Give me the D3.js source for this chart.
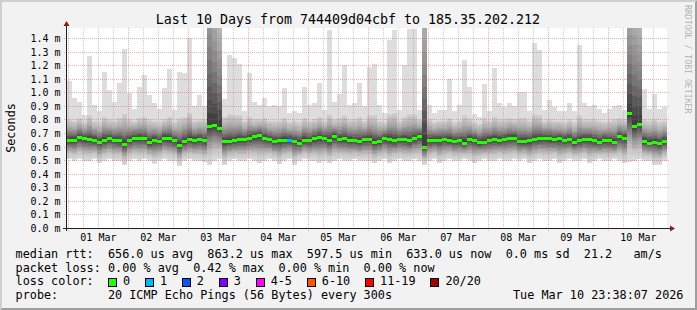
<!DOCTYPE html>
<html>
<head>
<meta charset="utf-8">
<script src="https://cdn.jsdelivr.net/npm/d3@7"></script>
<style>
  body { margin: 0; background: #f2f2f2; }
  svg { display: block; }
  text { font-family: "DejaVu Sans Mono", monospace; white-space: pre; }
</style>
</head>
<body>
<div id="chart"></div>
<script>
// smokeping, 10 days, one value per 2 hour bin (ms)
const medianRtt = [
  0.65, 0.65, 0.67, 0.66, 0.655, 0.65, 0.635, 0.65, 0.66, 0.65,
  0.645, 0.62, 0.65, 0.665, 0.665, 0.66, 0.635, 0.65, 0.64, 0.665,
  0.66, 0.645, 0.615, 0.64, 0.655, 0.65, 0.655, 0.645, 0.75, 0.76,
  0.74, 0.64, 0.64, 0.645, 0.655, 0.655, 0.665, 0.675, 0.685, 0.665,
  0.655, 0.64, 0.645, 0.65, 0.65, 0.64, 0.63, 0.65, 0.645, 0.66,
  0.67, 0.665, 0.65, 0.675, 0.655, 0.66, 0.65, 0.645, 0.64, 0.655,
  0.655, 0.635, 0.64, 0.66, 0.655, 0.645, 0.655, 0.655, 0.645, 0.66,
  0.68, 0.60, 0.645, 0.65, 0.65, 0.655, 0.65, 0.64, 0.645, 0.63,
  0.655, 0.65, 0.635, 0.635, 0.65, 0.655, 0.65, 0.655, 0.665, 0.665,
  0.64, 0.64, 0.645, 0.655, 0.66, 0.665, 0.66, 0.655, 0.66, 0.65,
  0.655, 0.635, 0.645, 0.655, 0.655, 0.645, 0.635, 0.65, 0.645, 0.635,
  0.675, 0.665, 0.845, 0.75, 0.77, 0.64, 0.63, 0.635, 0.625, 0.64
];
// fastest ping of the bin
const pingMin = [
  0.51, 0.50, 0.51, 0.50, 0.50, 0.51, 0.48, 0.50, 0.51, 0.50,
  0.50, 0.465, 0.50, 0.51, 0.50, 0.51, 0.50, 0.475, 0.50, 0.51,
  0.50, 0.50, 0.46, 0.50, 0.51, 0.50, 0.50, 0.49, 0.47, 0.50,
  0.51, 0.465, 0.50, 0.51, 0.50, 0.50, 0.51, 0.50, 0.48, 0.50,
  0.51, 0.50, 0.475, 0.50, 0.51, 0.47, 0.50, 0.51, 0.50, 0.50,
  0.48, 0.50, 0.48, 0.50, 0.51, 0.50, 0.50, 0.51, 0.50, 0.50,
  0.50, 0.48, 0.50, 0.51, 0.48, 0.50, 0.51, 0.50, 0.50, 0.51,
  0.50, 0.47, 0.50, 0.51, 0.48, 0.50, 0.51, 0.50, 0.50, 0.51,
  0.50, 0.48, 0.50, 0.51, 0.50, 0.50, 0.51, 0.50, 0.50, 0.51,
  0.50, 0.51, 0.48, 0.50, 0.51, 0.50, 0.50, 0.51, 0.48, 0.50,
  0.51, 0.50, 0.50, 0.51, 0.48, 0.50, 0.51, 0.50, 0.50, 0.51,
  0.50, 0.48, 0.49, 0.50, 0.51, 0.50, 0.50, 0.47, 0.47, 0.50
];
// 19th of 20 pings
const pingHigh = [
  0.80, 0.79, 0.81, 0.78, 0.83, 0.79, 0.78, 0.82, 0.80, 0.79,
  0.81, 0.84, 0.80, 0.79, 0.81, 0.82, 0.80, 0.79, 0.78, 0.80,
  0.82, 0.78, 0.81, 0.82, 0.85, 0.79, 0.80, 0.80, 2.3, 2.0,
  1.75, 0.82, 0.84, 0.83, 0.83, 0.79, 0.82, 0.80, 0.80, 0.81,
  0.79, 0.79, 0.79, 0.81, 0.78, 0.79, 0.78, 0.81, 0.79, 0.80,
  0.82, 0.79, 0.84, 0.80, 0.81, 0.83, 0.80, 0.80, 0.82, 0.79,
  0.83, 0.83, 0.79, 0.78, 0.84, 0.85, 0.79, 0.82, 0.84, 0.84,
  0.80, 2.0, 0.80, 0.78, 0.79, 0.79, 0.81, 0.78, 0.79, 0.83,
  0.81, 0.78, 0.77, 0.81, 0.79, 0.82, 0.80, 0.80, 0.81, 0.80,
  0.81, 0.81, 0.79, 0.84, 0.83, 0.79, 0.80, 0.79, 0.79, 0.78,
  0.80, 0.78, 0.83, 0.80, 0.80, 0.80, 0.79, 0.78, 0.79, 0.80,
  0.81, 0.80, 2.0, 1.95, 1.8, 0.80, 0.79, 0.80, 0.78, 0.79
];
// slowest ping of the bin
const pingMax = [
  1.08, 0.96, 0.93, 0.835, 1.27, 0.905, 0.86, 1.15, 1.02, 0.93,
  1.066, 1.32, 0.995, 0.88, 1.04, 1.13, 0.98, 0.92, 0.88, 1.035,
  1.17, 0.87, 1.15, 1.14, 1.40, 0.90, 0.98, 0.90, 3.0, 3.0,
  3.0, 0.95, 1.275, 1.25, 1.205, 0.86, 1.14, 0.93, 0.905, 0.955,
  0.90, 0.905, 0.90, 1.03, 0.85, 0.86, 0.85, 1.04, 0.905, 0.92,
  1.07, 0.87, 1.46, 0.93, 0.99, 1.20, 0.91, 0.92, 1.07, 0.90,
  1.19, 1.21, 0.91, 0.85, 1.385, 1.46, 0.87, 1.20, 1.47, 1.47,
  0.87, 3.0, 0.91, 0.85, 0.87, 0.87, 1.10, 0.86, 0.905, 1.24,
  1.04, 0.84, 0.82, 1.06, 0.86, 1.18, 0.92, 0.89, 0.92, 0.90,
  1.005, 1.0, 0.86, 1.36, 1.31, 0.87, 0.94, 0.89, 0.86, 0.86,
  0.92, 0.86, 1.35, 0.92, 0.90, 0.91, 0.88, 0.85, 0.88, 0.90,
  0.91, 0.87, 3.0, 3.0, 3.0, 1.025, 0.88, 0.99, 0.88, 0.89
];
// lost pings (of 20) per bin
const lossCount = [
  0,0,0,0,0,0,0,0,0,0, 0,0,0,0,0,0,0,0,0,0, 0,0,0,0,0,0,0,0,0,0,
  0,0,0,0,0,0,0,0,0,0, 0,0,0,0,1,0,0,0,0,0, 0,0,0,0,0,0,0,0,0,0,
  0,0,0,0,0,0,0,0,0,0, 0,0,0,0,0,0,0,0,0,0, 0,0,0,0,0,0,0,0,0,0,
  0,0,0,0,0,0,0,0,0,0, 0,0,0,0,0,0,0,0,0,0, 0,0,0,0,0,0,0,0,0,0
];

const lossLabels = ['0', '1', '2', '3', '4-5', '6-10', '11-19', '20/20'];
const lossColors = ['#26ff00', '#00b8ff', '#0059ff', '#7e00ff', '#ff00ff', '#ff5500', '#ff0000', '#a10000'];
const yTicks = [0, 0.1, 0.2, 0.3, 0.4, 0.5, 0.6, 0.7, 0.8, 0.9, 1.0, 1.1, 1.2, 1.3, 1.4];

const titleText = 'Last 10 Days from 744409d04cbf to 185.35.202.212';
const legendLines = [
  'median rtt:  656.0 us avg  863.2 us max  597.5 us min  633.0 us now  0.0 ms sd  21.2   am/s',
  'packet loss: 0.00 % avg  0.42 % max  0.00 % min  0.00 % now',
  'loss color:',
  'probe:       20 ICMP Echo Pings (56 Bytes) every 300s'
];
const stampText = 'Tue Mar 10 23:38:07 2026';

const W = 697, H = 310;
const plot = { left: 67, right: 667, top: 28, bottom: 228 };
const charW = 7.11;

const t0 = new Date(2026, 1, 28, 23, 38, 7);
const t1 = new Date(2026, 2, 10, 23, 38, 7);

const x = d3.scaleTime().domain([t0, t1]).range([plot.left, plot.right]);
const y = d3.scaleLinear().domain([0, 1.4737]).range([plot.bottom, plot.top]);

const binStart = i => d3.timeHour.offset(t0, 2 * i);

function lossIndex(n) {
  if (n <= 3) return n;
  if (n <= 5) return 4;
  if (n <= 10) return 5;
  if (n <= 19) return 6;
  return 7;
}

// smoke shading: position inside a band (0 = outer ping, 1 = median) -> grey
const lowShade = d3.scaleLinear().domain([0, 0.3, 0.55, 0.8, 1])
  .range(['#dddddd', '#c4c4c4', '#9a9a9a', '#666666', '#3a3a3a']);
const highShade = d3.scaleLinear().domain([0, 0.4, 0.68, 0.88, 1])
  .range(['#d2d2d2', '#aaaaaa', '#7e7e7e', '#525252', '#3a3a3a']);
const slices = 16;

const svg = d3.select('#chart').append('svg')
  .attr('width', W)
  .attr('height', H);

// background + 3d frame
svg.append('rect').attr('width', W).attr('height', H).attr('fill', '#f2f2f2');
svg.append('path').attr('fill', '#cfcfcf')
  .attr('d', `M0,0H${W}L${W - 2},2H2V${H - 2}L0,${H}Z`);
svg.append('path').attr('fill', '#9e9e9e')
  .attr('d', `M${W},${H}H0L2,${H - 2}H${W - 2}V2L${W},0Z`);

svg.append('rect')
  .attr('x', plot.left).attr('y', plot.top)
  .attr('width', plot.right - plot.left).attr('height', plot.bottom - plot.top)
  .attr('fill', '#fff');

const defs = svg.append('defs');
defs.append('clipPath').attr('id', 'plotClip')
  .append('rect')
  .attr('x', plot.left).attr('y', plot.top)
  .attr('width', plot.right - plot.left).attr('height', plot.bottom - plot.top);

const bins = medianRtt.map((m, i) => ({
  t: binStart(i),
  t2: binStart(i + 1),
  med: m,
  min: pingMin[i],
  high: pingHigh[i],
  max: pingMax[i],
  loss: lossCount[i]
}));

// split one band into flat grey slices, outer edge -> median
function bandSlices(outer, med, shade) {
  return d3.range(slices).map(k => ({
    a: outer + (med - outer) * k / slices,
    b: outer + (med - outer) * (k + 1) / slices,
    c: shade((k + 0.5) / slices)
  }));
}

const smoke = svg.append('g').attr('clip-path', 'url(#plotClip)').attr('shape-rendering', 'crispEdges');

const cols = smoke.selectAll('g.bin')
  .data(bins)
  .enter().append('g')
  .attr('class', 'bin')
  .attr('transform', d => `translate(${x(d.t)},0)`);

cols.append('rect')
  .attr('width', d => x(d.t2) - x(d.t))
  .attr('y', d => y(d.max))
  .attr('height', d => y(d.high) - y(d.max))
  .attr('fill', '#dddddd');

cols.each(function (d) {
  const w = x(d.t2) - x(d.t);
  const parts = bandSlices(d.high, d.med, highShade).concat(bandSlices(d.min, d.med, lowShade));
  d3.select(this).selectAll('rect.slice')
    .data(parts)
    .enter().append('rect')
    .attr('class', 'slice')
    .attr('width', w)
    .attr('y', p => Math.min(y(p.a), y(p.b)))
    .attr('height', p => Math.abs(y(p.a) - y(p.b)) + 0.4)
    .attr('fill', p => p.c);
});

// grid on top of the smoke
const grid = svg.append('g').attr('shape-rendering', 'crispEdges');
const minorColor = 'rgba(143,143,143,0.45)';
const majorColor = 'rgba(222,79,79,0.45)';

const midnights = d3.timeDay.range(t0, t1);
const sixHours = d3.timeHour.every(6).range(t0, t1).filter(d => d.getHours() !== 0);

grid.selectAll('line.minor')
  .data(sixHours)
  .enter().append('line')
  .attr('x1', d => Math.round(x(d)) + 0.5).attr('x2', d => Math.round(x(d)) + 0.5)
  .attr('y1', plot.top).attr('y2', plot.bottom + 2)
  .attr('stroke', minorColor).attr('stroke-dasharray', '1,1');

grid.selectAll('line.majorx')
  .data(midnights)
  .enter().append('line')
  .attr('x1', d => Math.round(x(d)) + 0.5).attr('x2', d => Math.round(x(d)) + 0.5)
  .attr('y1', plot.top).attr('y2', plot.bottom + 3)
  .attr('stroke', majorColor).attr('stroke-dasharray', '1,1');

grid.selectAll('line.majory')
  .data(yTicks.filter(v => v > 0))
  .enter().append('line')
  .attr('x1', plot.left - 3).attr('x2', plot.right + 2)
  .attr('y1', d => Math.round(y(d)) + 0.5).attr('y2', d => Math.round(y(d)) + 0.5)
  .attr('stroke', majorColor).attr('stroke-dasharray', '1,1');

// median steps coloured by loss
smoke.selectAll('rect.median')
  .data(bins)
  .enter().append('rect')
  .attr('class', 'median')
  .attr('x', d => x(d.t))
  .attr('width', d => x(d.t2) - x(d.t))
  .attr('y', d => Math.round(y(d.med)) - 1)
  .attr('height', 3)
  .attr('fill', d => lossColors[lossIndex(d.loss)]);

// axes
const axisCol = '#1f1f1f', arrowCol = '#801f1f';
svg.append('line')
  .attr('x1', plot.left - 4).attr('x2', plot.right + 4)
  .attr('y1', plot.bottom + 0.5).attr('y2', plot.bottom + 0.5)
  .attr('stroke', axisCol);
svg.append('line')
  .attr('x1', plot.left - 0.5).attr('x2', plot.left - 0.5)
  .attr('y1', plot.bottom + 3).attr('y2', plot.top - 4)
  .attr('stroke', axisCol);
svg.append('path').attr('fill', arrowCol)
  .attr('d', `M${plot.left - 0.5},${plot.top - 7}L${plot.left - 3.5},${plot.top - 2}H${plot.left + 2.5}Z`);
svg.append('path').attr('fill', arrowCol)
  .attr('d', `M${plot.right + 8},${plot.bottom + 0.5}L${plot.right + 3},${plot.bottom - 2.5}V${plot.bottom + 3.5}Z`);

const xAxis = svg.append('g')
  .attr('transform', `translate(0,${plot.bottom})`)
  .call(d3.axisBottom(x)
    .tickValues(midnights.map(d => d3.timeHour.offset(d, 12)))
    .tickSize(0)
    .tickFormat(d3.timeFormat('%d %b')));
xAxis.select('.domain').remove();
xAxis.selectAll('text')
  .attr('y', 12.7).attr('dy', null)
  .attr('font-family', '"DejaVu Sans Mono", monospace')
  .attr('font-size', 10).attr('fill', '#000');

const yAxis = svg.append('g')
  .attr('transform', `translate(${plot.left},0)`)
  .call(d3.axisLeft(y)
    .tickValues(yTicks)
    .tickSize(0)
    .tickFormat(v => d3.format('.1f')(v) + ' m'));
yAxis.select('.domain').remove();
yAxis.selectAll('text')
  .attr('x', -6.5).attr('dy', '0.35em')
  .attr('font-family', '"DejaVu Sans Mono", monospace')
  .attr('font-size', 10).attr('fill', '#000');

// titles
svg.append('text')
  .attr('x', 348).attr('y', 24)
  .attr('text-anchor', 'middle')
  .attr('font-size', 13.3)
  .text(titleText);

svg.append('text')
  .attr('transform', `translate(15,${(plot.top + plot.bottom) / 2}) rotate(-90)`)
  .attr('text-anchor', 'middle')
  .attr('font-size', 11.8)
  .text('Seconds');

svg.append('text')
  .attr('transform', 'translate(685,5) rotate(90)')
  .attr('font-size', 8.2)
  .attr('fill', 'rgba(0,0,0,0.3)')
  .text('RRDTOOL / TOBI OETIKER');

// legend
const rowY = [258.3, 271.9, 285.4, 299];
legendLines.forEach((s, i) => {
  svg.append('text')
    .attr('x', 15.6).attr('y', rowY[i])
    .attr('font-size', 11.8)
    .text(s);
});

let cursor = 15.6 + 13 * charW;
lossLabels.forEach((lab, i) => {
  svg.append('rect')
    .attr('x', Math.round(cursor) + 0.5).attr('y', 278.5)
    .attr('width', 8).attr('height', 8)
    .attr('fill', lossColors[i]).attr('stroke', '#000')
    .attr('shape-rendering', 'crispEdges');
  svg.append('text')
    .attr('x', cursor + 15).attr('y', rowY[2])
    .attr('font-size', 11.8)
    .text(lab);
  cursor += 29.8 + lab.length * charW;
});

svg.append('text')
  .attr('x', 513).attr('y', rowY[3])
  .attr('font-size', 11.8)
  .text(stampText);
</script>
</body>
</html>
